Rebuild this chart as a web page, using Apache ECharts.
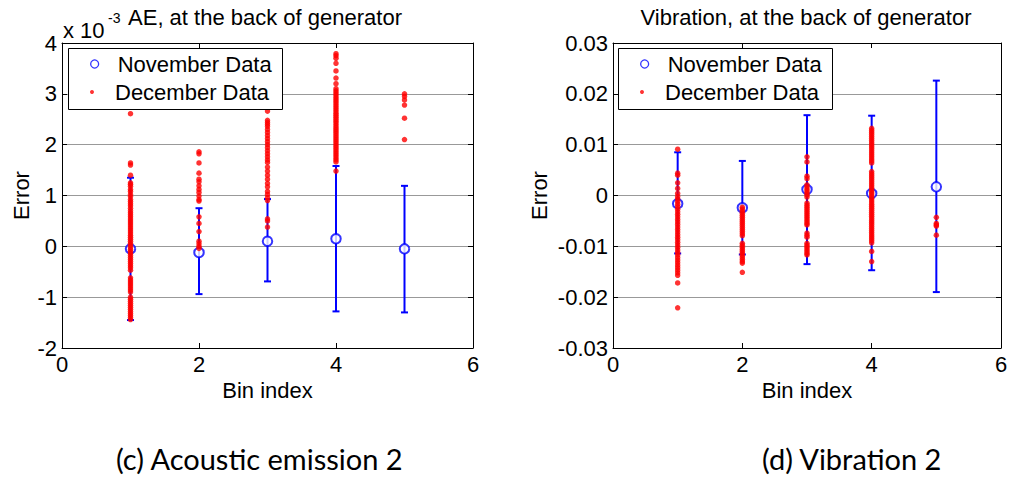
<!DOCTYPE html>
<html><head><meta charset="utf-8">
<script src="https://cdn.jsdelivr.net/npm/echarts@6/dist/echarts.min.js"></script>
<style>html,body{margin:0;padding:0;background:#fff}#c{width:1014px;height:481px}</style>
</head><body><div id="c"></div>
<script>
// ---------- data ----------
const bins = [1, 2, 3, 4, 5];
const xTicks = [0, 2, 4, 6];
const aeTicks = [-2, -1, 0, 1, 2, 3, 4];            // x 10^-3
const vibTicks = [-0.03, -0.02, -0.01, 0, 0.01, 0.02, 0.03];

// Left plot: AE (values in units of 1e-3)
const novMeanAE = [-0.05, -0.12, 0.10, 0.15, -0.05];
const novLowAE  = [-1.45, -0.94, -0.69, -1.28, -1.30];
const novHighAE = [1.35, 0.75, 0.93, 1.58, 1.19];
const decAE1 = [2.61, 1.64, 1.60, 1.40, 1.25, 1.22, 1.18, 1.12, 1.08, 1.02, 0.98, 0.92, 0.88, 0.84, 0.80, 0.75, 0.70, 0.66, 0.62, 0.58, 0.54, 0.50, 0.46, 0.42, 0.38, 0.34, 0.30, 0.26, 0.22, 0.18, 0.14, 0.10, 0.06, 0.02, -0.02, -0.06, -0.10, -0.14, -0.18, -0.22, -0.26, -0.30, -0.34, -0.38, -0.42, -0.47, -0.62, -0.66, -0.70, -0.74, -0.78, -0.82, -0.86, -0.90, -1.00, -1.04, -1.08, -1.12, -1.16, -1.20, -1.24, -1.28, -1.32, -1.36, -1.40, -1.44];
const decAE2 = [1.86, 1.82, 1.64, 1.44, 1.32, 1.27, 1.19, 1.12, 1.06, 0.99, 0.92, 0.89, 0.58, 0.45, 0.29, 0.10, 0.05, 0.00, -0.04];
const decAE3 = [2.66, 2.48, 2.44, 2.40, 2.36, 2.30, 2.24, 2.18, 2.12, 2.06, 2.00, 1.94, 1.88, 1.82, 1.76, 1.70, 1.65, 1.56, 1.48, 1.40, 1.32, 1.24, 1.17, 1.08, 1.02, 0.96, 0.90, 0.54, 0.50, 0.38];
const decAE4 = [3.79, 3.75, 3.70, 3.60, 3.45, 3.31, 3.20, 3.10, 3.06, 3.02, 2.98, 2.94, 2.90, 2.86, 2.82, 2.78, 2.74, 2.70, 2.66, 2.62, 2.58, 2.54, 2.50, 2.46, 2.42, 2.38, 2.34, 2.30, 2.26, 2.22, 2.18, 2.14, 2.10, 2.06, 2.02, 1.98, 1.94, 1.90, 1.86, 1.82, 1.78, 1.74, 1.70, 1.66, 1.48];
const decAE5 = [3.00, 2.95, 2.88, 2.78, 2.52, 2.10];

// Right plot: vibration
const novMeanV = [-0.0016, -0.0024, 0.0012, 0.0004, 0.0017];
const novLowV  = [-0.0114, -0.0116, -0.0135, -0.0147, -0.0190];
const novHighV = [0.0085, 0.0068, 0.0158, 0.0157, 0.0226];
const decV1 = [0.0091, 0.0044, 0.0040, 0.0025, 0.0014, 0.0004, -0.0002, -0.0007, -0.0012, -0.0017, -0.0022, -0.0027, -0.0032, -0.0037, -0.0042, -0.0047, -0.0052, -0.0057, -0.0062, -0.0067, -0.0072, -0.0077, -0.0082, -0.0087, -0.0092, -0.0097, -0.0102, -0.0107, -0.0112, -0.0117, -0.0122, -0.0127, -0.0132, -0.0137, -0.0142, -0.0147, -0.0152, -0.0157, -0.0172, -0.0221];
const decV2 = [-0.0023, -0.0027, -0.0031, -0.0035, -0.0039, -0.0043, -0.0047, -0.0051, -0.0055, -0.0059, -0.0063, -0.0067, -0.0071, -0.0075, -0.0079, -0.0094, -0.0098, -0.0102, -0.0106, -0.0110, -0.0114, -0.0118, -0.0122, -0.0126, -0.0130, -0.0133, -0.0151];
const decV3 = [0.0076, 0.0066, 0.0038, 0.0033, 0.0021, 0.0017, 0.0013, 0.0009, 0.0005, 0.0001, -0.0003, -0.0015, -0.0019, -0.0023, -0.0027, -0.0031, -0.0035, -0.0039, -0.0043, -0.0047, -0.0051, -0.0055, -0.0058, -0.0074, -0.0078, -0.0082, -0.0094, -0.0098, -0.0102, -0.0106, -0.0110, -0.0114, -0.0117];
const decV4 = [0.0132, 0.0128, 0.0124, 0.0120, 0.0116, 0.0112, 0.0108, 0.0104, 0.0100, 0.0096, 0.0092, 0.0088, 0.0084, 0.0080, 0.0076, 0.0072, 0.0068, 0.0064, 0.0047, 0.0043, 0.0039, 0.0035, 0.0031, 0.0027, 0.0023, 0.0019, 0.0015, 0.0011, 0.0007, 0.0003, -0.0001, -0.0005, -0.0009, -0.0013, -0.0017, -0.0021, -0.0025, -0.0029, -0.0033, -0.0037, -0.0041, -0.0045, -0.0049, -0.0053, -0.0057, -0.0061, -0.0065, -0.0069, -0.0073, -0.0077, -0.0081, -0.0085, -0.0089, -0.0093, -0.0110, -0.0130];
const decV5 = [-0.0043, -0.0055, -0.0058, -0.0060, -0.0078];

const titleAE = 'AE, at the back of generator';
const titleV = 'Vibration, at the back of generator';
const captionAE = '(c) Acoustic emission 2';
const captionV = '(d) Vibration 2';
const xName = 'Bin index';
const yName = 'Error';
const novName = 'November Data';
const decName = 'December Data';

// ---------- build ----------
const FONT = 'Liberation Sans';
const CAPFONT = 'Lato';
const BLUE = '#0000ff', RED = '#ff0000';
const errData = (lo, hi) => bins.map((b, i) => [b, lo[i], hi[i]]);
const meanData = (m) => bins.map((b, i) => [b, m[i]]);
const decData = (groups) => groups.flatMap((arr, i) => arr.map(v => [bins[i], v]));

function errRender(params, api) {
  const x = api.value(0);
  const pLo = api.coord([x, api.value(1)]);
  const pHi = api.coord([x, api.value(2)]);
  const cap = 3.5;
  const style = { stroke: BLUE, lineWidth: 2, fill: null };
  return { type: 'group', children: [
    { type: 'line', shape: { x1: pLo[0], y1: pLo[1], x2: pHi[0], y2: pHi[1] }, style },
    { type: 'line', shape: { x1: pLo[0] - cap, y1: pLo[1], x2: pLo[0] + cap, y2: pLo[1] }, style },
    { type: 'line', shape: { x1: pHi[0] - cap, y1: pHi[1], x2: pHi[0] + cap, y2: pHi[1] }, style }
  ]};
}

const grids = [
  { left: 62, top: 43, width: 411, height: 305 },
  { left: 613, top: 43, width: 388, height: 305 }
];
const lab = { color: '#000', fontSize: 22, fontFamily: FONT };
const axLine = { show: true, onZero: false, lineStyle: { color: '#000', width: 1 } };
const tick = { show: true, inside: true, length: 5, lineStyle: { color: '#000' } };

const xAxes = [], yAxes = [];
[0, 1].forEach(g => {
  xAxes.push({ type: 'value', gridIndex: g, position: 'bottom', min: xTicks[0], max: xTicks[xTicks.length - 1], interval: 2,
    axisLine: axLine, axisTick: tick, splitLine: { show: false },
    axisLabel: Object.assign({ margin: 5 }, lab),
    name: xName, nameLocation: 'middle', nameGap: 28, nameTextStyle: lab });
  xAxes.push({ type: 'value', gridIndex: g, position: 'top', min: xTicks[0], max: xTicks[xTicks.length - 1], interval: 2,
    axisLine: axLine, axisTick: tick, splitLine: { show: false }, axisLabel: { show: false } });
});
yAxes.push({ type: 'value', gridIndex: 0, position: 'left', min: aeTicks[0], max: aeTicks[aeTicks.length - 1], interval: 1,
  axisLine: axLine, axisTick: tick, splitLine: { show: true, lineStyle: { color: '#999', width: 1 } },
  axisLabel: Object.assign({ margin: 5 }, lab),
  name: yName, nameLocation: 'middle', nameGap: 30, nameTextStyle: lab });
yAxes.push({ type: 'value', gridIndex: 0, position: 'right', min: aeTicks[0], max: aeTicks[aeTicks.length - 1], interval: 1,
  axisLine: axLine, axisTick: tick, splitLine: { show: false }, axisLabel: { show: false } });
yAxes.push({ type: 'value', gridIndex: 1, position: 'left', min: vibTicks[0], max: vibTicks[vibTicks.length - 1], interval: 0.01,
  axisLine: axLine, axisTick: tick, splitLine: { show: true, lineStyle: { color: '#999', width: 1 } },
  axisLabel: Object.assign({ margin: 5, formatter: v => String(+v.toFixed(2)) }, lab),
  name: yName, nameLocation: 'middle', nameGap: 63, nameTextStyle: lab });
yAxes.push({ type: 'value', gridIndex: 1, position: 'right', min: vibTicks[0], max: vibTicks[vibTicks.length - 1], interval: 0.01,
  axisLine: axLine, axisTick: tick, splitLine: { show: false }, axisLabel: { show: false } });

function plotSeries(xi, yi, lo, hi, mean, dec) {
  return [
    { type: 'custom', name: 'err' + xi, xAxisIndex: xi, yAxisIndex: yi, renderItem: errRender,
      encode: { x: 0, y: [1, 2] }, data: errData(lo, hi), z: 2, silent: true },
    { type: 'scatter', name: novName, xAxisIndex: xi, yAxisIndex: yi, symbol: 'emptyCircle', symbolSize: 9.5,
      itemStyle: { color: BLUE, borderColor: BLUE, borderWidth: 1.8 }, data: meanData(mean), z: 3 },
    { type: 'scatter', name: decName, xAxisIndex: xi, yAxisIndex: yi, symbol: 'circle', symbolSize: 5.5,
      itemStyle: { color: RED, borderWidth: 0 }, data: decData(dec), z: 4 }
  ];
}

const legTxt = { color: '#000', fontSize: 22, fontFamily: FONT, lineHeight: 22 };
function legends(left, boxTop) {
  return [
    { left: left, top: boxTop + 5, orient: 'vertical', padding: 0, itemWidth: 36, itemHeight: 8, z: 10,
      selectedMode: false, textStyle: legTxt,
      data: [{ name: novName, icon: 'circle', itemStyle: { color: '#fff', borderColor: BLUE, borderWidth: 1.3 } }] },
    { left: left, top: boxTop + 33, orient: 'vertical', padding: 0, itemWidth: 36, itemHeight: 4, z: 10,
      selectedMode: false, textStyle: legTxt,
      data: [{ name: decName, icon: 'circle', itemStyle: { color: RED, borderWidth: 0 } }] }
  ];
}

const txt = (x, y, text, size, family, align) => ({ type: 'text', x: x, y: y, z: 20, silent: true,
  style: { text: text, fill: '#000', fontSize: size, fontFamily: family, align: align || 'left', verticalAlign: 'middle' } });

const option = {
  animation: false,
  backgroundColor: '#fff',
  grid: grids,
  xAxis: xAxes,
  yAxis: yAxes,
  legend: legends(90, 48).concat(legends(640, 48)),
  series: plotSeries(0, 0, novLowAE, novHighAE, novMeanAE, [decAE1, decAE2, decAE3, decAE4, decAE5])
    .concat(plotSeries(2, 2, novLowV, novHighV, novMeanV, [decV1, decV2, decV3, decV4, decV5])),
  graphic: [
    { type: 'rect', z: 5, silent: true, shape: { x: 68.5, y: 48.5, width: 214, height: 61 },
      style: { fill: '#fff', stroke: '#000', lineWidth: 1 } },
    { type: 'rect', z: 5, silent: true, shape: { x: 618.5, y: 48.5, width: 214, height: 61 },
      style: { fill: '#fff', stroke: '#000', lineWidth: 1 } },
    txt(265, 17, titleAE, 22, FONT, 'center'),
    txt(806, 17, titleV, 22, FONT, 'center'),
    txt(63, 30, 'x 10', 22, FONT),
    txt(108, 18, '-3', 14, FONT),
    txt(116, 458, captionAE, 29, CAPFONT),
    txt(762, 458, captionV, 29, CAPFONT)
  ]
};

const chart = echarts.init(document.getElementById('c'), null, { renderer: 'svg' });
chart.setOption(option);
</script>
</body></html>
